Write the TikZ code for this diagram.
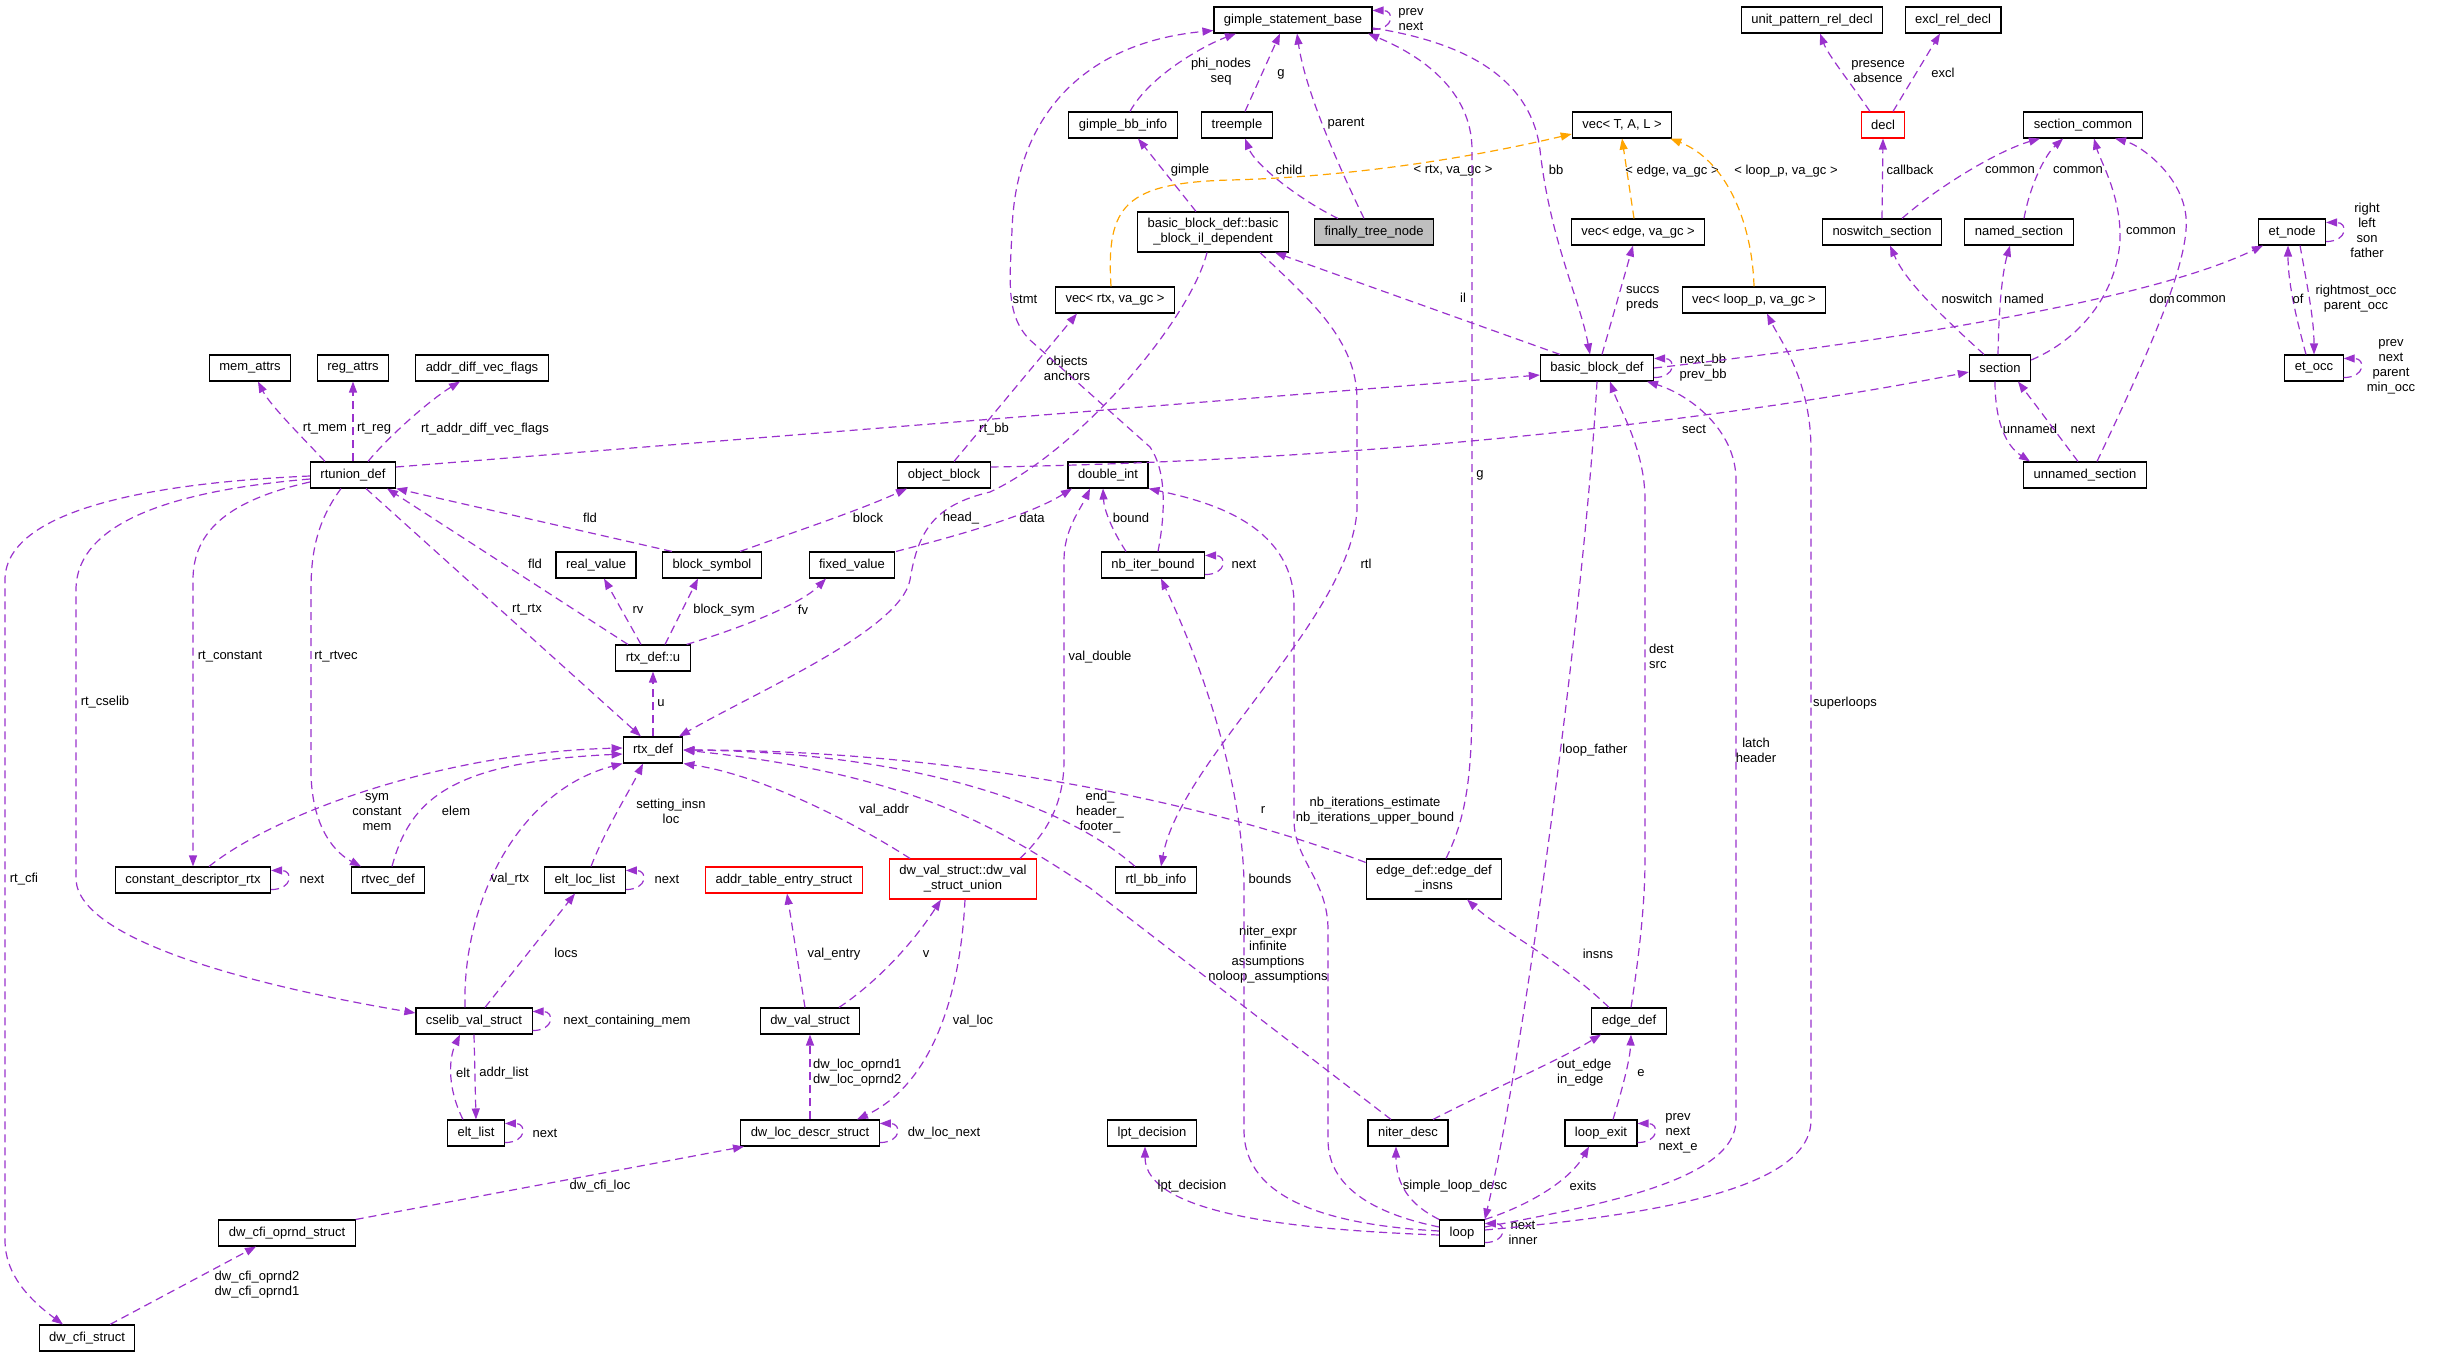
\documentclass[tikz,border=0pt]{standalone}
\usepackage{fontspec}
\setmainfont{Liberation Sans}
\usepackage{xcolor}
\usetikzlibrary{arrows.meta}
\definecolor{dpurple}{HTML}{9A32CD}
\definecolor{dorange}{HTML}{FFA500}
\definecolor{grayfill}{HTML}{BFBFBF}

\begin{document}
\begin{tikzpicture}[
    x=1pt, y=-1pt,
    cls/.style={draw=black, line width=1.1pt, fill=white, font=\fontsize{13}{15}\selectfont,
                inner xsep=10pt, inner ysep=0pt, minimum height=26pt, align=center},
    cls2/.style={cls, minimum height=40pt},
    redcls/.style={cls, draw=red},
    lbl/.style={font=\fontsize{13}{15}\selectfont, align=center, inner sep=0pt},
    lbll/.style={lbl, align=left, anchor=west},
    dep/.style={draw=dpurple, line width=1.2pt, dash pattern=on 8pt off 5pt,
                -{Triangle[length=11pt,width=8pt]}},
    tpl/.style={dep, draw=dorange}
  ]
  \useasboundingbox (0,0) rectangle (2445,1357);

  % Classes: gimple / basic block
  \node[cls] (gsb) at (1293,20) {gimple\_statement\_base};
  \node[cls] (gbbinfo) at (1123,125) {gimple\_bb\_info};
  \node[cls] (treemple) at (1237,125) {treemple};
  \node[cls, fill=grayfill] (ftn) at (1374,232) {finally\_tree\_node};
  \node[cls2] (ildep) at (1213,232) {basic\_block\_def::basic\\\_block\_il\_dependent};
  \node[cls] (vecrtx) at (1115,300) {vec< rtx, va\_gc >};
  \node[cls] (vectal) at (1622,125) {vec< T, A, L >};
  \node[cls] (vecedge) at (1638,232) {vec< edge, va\_gc >};
  \node[cls] (vecloop) at (1754,300) {vec< loop\_p, va\_gc >};
  \node[cls] (bbdef) at (1597,368) {basic\_block\_def};

  % Classes: sections, et
  \node[cls] (uprd) at (1812,20) {unit\_pattern\_rel\_decl};
  \node[cls] (excl) at (1953,20) {excl\_rel\_decl};
  \node[redcls] (decl) at (1883,125) {decl};
  \node[cls] (seccommon) at (2083,125) {section\_common};
  \node[cls] (noswitch) at (1882,232) {noswitch\_section};
  \node[cls] (named) at (2019,232) {named\_section};
  \node[cls] (etnode) at (2292,232) {et\_node};
  \node[cls] (section) at (2000,368) {section};
  \node[cls] (etocc) at (2314,368) {et\_occ};
  \node[cls] (unnamed) at (2085,475) {unnamed\_section};

  % Classes: rtl
  \node[cls] (memattrs) at (250,368) {mem\_attrs};
  \node[cls] (regattrs) at (353,368) {reg\_attrs};
  \node[cls] (advf) at (482,368) {addr\_diff\_vec\_flags};
  \node[cls] (rtunion) at (353,475) {rtunion\_def};
  \node[cls] (realvalue) at (596,565) {real\_value};
  \node[cls] (blocksym) at (712,565) {block\_symbol};
  \node[cls] (rtxu) at (653,658) {rtx\_def::u};
  \node[cls] (rtxdef) at (653,750) {rtx\_def};
  \node[cls] (cdrtx) at (193,880) {constant\_descriptor\_rtx};
  \node[cls] (rtvec) at (388,880) {rtvec\_def};
  \node[cls] (eltloc) at (585,880) {elt\_loc\_list};
  \node[redcls] (addrtab) at (784,880) {addr\_table\_entry\_struct};
  \node[cls] (objblock) at (944,475) {object\_block};
  \node[cls] (doubleint) at (1108,475) {double\_int};
  \node[cls] (fixedvalue) at (852,565) {fixed\_value};
  \node[cls] (nbiter) at (1153,565) {nb\_iter\_bound};
  \node[redcls, minimum height=40pt] (dwunion) at (963,879) {dw\_val\_struct::dw\_val\\\_struct\_union};
  \node[cls] (rtlbb) at (1156,880) {rtl\_bb\_info};
  \node[cls2] (insns) at (1434,879) {edge\_def::edge\_def\\\_insns};

  % Classes: lower row
  \node[cls] (cselib) at (474,1021) {cselib\_val\_struct};
  \node[cls] (eltlist) at (476,1133) {elt\_list};
  \node[cls] (dwval) at (810,1021) {dw\_val\_struct};
  \node[cls] (dwloc) at (810,1133) {dw\_loc\_descr\_struct};
  \node[cls] (cfioprnd) at (287,1233) {dw\_cfi\_oprnd\_struct};
  \node[cls] (cfistruct) at (87,1338) {dw\_cfi\_struct};
  \node[cls] (lpt) at (1152,1133) {lpt\_decision};
  \node[cls] (niter) at (1408,1133) {niter\_desc};
  \node[cls] (loop) at (1462,1233) {loop};
  \node[cls] (edgedef) at (1629,1021) {edge\_def};
  \node[cls] (loopexit) at (1601,1133) {loop\_exit};

  % Self references
  \foreach \n in {gsb,bbdef,etnode,etocc,nbiter,cdrtx,eltloc,cselib,eltlist,dwloc,loop,loopexit}
    \draw[dep] ([yshift=4pt]\n.south east) .. controls +(22,0) and +(22,0) .. ([yshift=-4pt]\n.north east);
  \node[lbl] (lgsb) at (1411,20) {prev\\next};
  \node[lbl] (lnextbb) at (1703,368) {next\_bb\\prev\_bb};
  \node[lbl] (letnode) at (2367,230) {right\\left\\son\\father};
  \node[lbl] (letocc) at (2391,367) {prev\\next\\parent\\min\_occ};
  \node[lbl] (lnext2) at (1244,564) {next};
  \node[lbl] (lnext3) at (312,879) {next};
  \node[lbl] (lnext4) at (667,879) {next};
  \node[lbl] (lnextmem) at (627,1021) {next\_containing\_mem};
  \node[lbl] (lnext5) at (545,1133) {next};
  \node[lbl] (ldwlocnext) at (944,1133) {dw\_loc\_next};
  \node[lbl] (lnextinner) at (1523,1233) {next\\inner};
  \node[lbl] (lloopexit) at (1678,1133) {prev\\next\\next\_e};

  % gimple statements
  \draw[dep] ([xshift=7pt]gbbinfo.north) .. controls (1150,75) and (1205,45) .. ([xshift=-57pt]gsb.south);
  \node[lbl] (lphi) at (1221,72) {phi\_nodes\\seq};
  \draw[dep] ([xshift=8pt]treemple.north) -- ([xshift=-13pt]gsb.south);
  \node[lbl] (lg1) at (1281,74) {g};
  \draw[dep] ([xshift=-10pt]ftn.north) .. controls (1338,165) and (1305,90) .. ([xshift=4pt]gsb.south);
  \node[lbl] (lparent) at (1346,124) {parent};
  \draw[dep] ([xshift=-36pt]ftn.north) .. controls (1300,200) and (1255,165) .. ([xshift=8pt]treemple.south);
  \node[lbl] (lchild) at (1289,170) {child};
  \draw[dep] ([xshift=-17pt]ildep.north) -- ([xshift=15pt]gbbinfo.south);
  \node[lbl] (lgimple) at (1190,170) {gimple};

  % template instances
  \draw[tpl] ([xshift=-4pt]vecrtx.north) .. controls (1106,205) and (1125,183) .. (1230,180)
    .. controls (1350,177) and (1470,158) .. ([yshift=-9pt]vectal.west);
  \node[lbl] (ltrtx) at (1453,171) {< rtx, va\_gc >};
  \draw[tpl] ([xshift=-4pt]vecedge.north) -- (vectal.south);
  \node[lbl] (ltedge) at (1672,171) {< edge, va\_gc >};
  \draw[tpl] (vecloop.north) .. controls (1752,220) and (1725,160) .. ([xshift=-2pt]vectal.south east);
  \node[lbl] (ltloop) at (1786,171) {< loop\_p, va\_gc >};

  % basic blocks
  \draw[dep] ([yshift=-8pt]gsb.east) .. controls (1450,40) and (1530,70) .. (1540,150)
    .. controls (1550,240) and (1580,300) .. ([xshift=-7pt]bbdef.north);
  \node[lbl] (lbb) at (1556,170) {bb};
  \draw[dep] ([xshift=-37pt]bbdef.north) -- ([xshift=62pt]ildep.south);
  \node[lbl] (lil) at (1463,298) {il};
  \draw[dep] ([xshift=5pt]bbdef.north) -- ([xshift=-5pt]vecedge.south);
  \node[lbll] (lsuccs) at (1626,299) {succs\\preds};
  \draw[dep] (bbdef.east) .. controls (1900,340) and (2150,300) .. ([xshift=5pt]etnode.south west);
  \node[lbl] (ldom) at (2162,299) {dom};

  % sections
  \draw[dep] ([xshift=-13pt]decl.north) .. controls (1852,85) and (1828,55) .. ([xshift=8pt]uprd.south);
  \node[lbl] (lpres) at (1878,72) {presence\\absence};
  \draw[dep] ([xshift=10pt]decl.north) -- ([xshift=-13pt]excl.south);
  \node[lbl] (lexcl) at (1943,73) {excl};
  \draw[dep] (noswitch.north) -- (decl.south);
  \node[lbl] (lcallback) at (1910,170) {callback};
  \draw[dep] ([xshift=20pt]noswitch.north) .. controls (1940,185) and (2000,150) .. ([xshift=-43pt]seccommon.south);
  \node[lbl] (lcommon1) at (2010,170) {common};
  \draw[dep] ([xshift=5pt]named.north) .. controls (2030,185) and (2045,155) .. ([xshift=-20pt]seccommon.south);
  \node[lbl] (lcommon2) at (2078,170) {common};
  \draw[dep] ([yshift=8pt]section.east) .. controls (2090,335) and (2122,280) .. (2120,230)
    .. controls (2118,190) and (2100,160) .. ([xshift=11pt]seccommon.south);
  \node[lbl] (lcommon3) at (2151,231) {common};
  \draw[dep] ([xshift=12pt]unnamed.north) .. controls (2150,350) and (2190,260) .. (2186,217)
    .. controls (2182,175) and (2140,145) .. ([xshift=32pt]seccommon.south);
  \node[lbl] (lcommon4) at (2201,299) {common};
  \draw[dep] ([xshift=-16pt]section.north) .. controls (1935,310) and (1905,280) .. ([xshift=8pt]noswitch.south);
  \node[lbl] (lnoswitch) at (1967,299) {noswitch};
  \draw[dep] ([xshift=-2pt]section.north) .. controls (1999,300) and (2003,270) .. ([xshift=-9pt]named.south);
  \node[lbl] (lnamed) at (2024,299) {named};
  \draw[dep] ([xshift=-5pt]section.south) .. controls (1995,420) and (2005,445) .. ([xshift=-55pt]unnamed.north);
  \node[lbl] (lunnamed) at (2030,429) {unnamed};
  \draw[dep] ([xshift=-7pt]unnamed.north) -- ([xshift=18pt]section.south);
  \node[lbl] (lnext1) at (2083,429) {next};
  \draw[dep] ([yshift=8pt]objblock.east) .. controls (1400,460) and (1750,415) .. ([yshift=-4pt]section.west);
  \node[lbl] (lsect) at (1694,429) {sect};

  % et nodes
  \draw[dep] ([xshift=-8pt]etocc.north) .. controls (2294,310) and (2288,280) .. ([xshift=-4pt]etnode.south);
  \node[lbl] (lof) at (2298,299) {of};
  \draw[dep] ([xshift=8pt]etnode.south) .. controls (2308,290) and (2314,320) .. (etocc.north);
  \node[lbl] (lrocc) at (2356,299) {rightmost\_occ\\parent\_occ};

  % rtunion members
  \draw[dep] ([xshift=-28pt]rtunion.north) .. controls (300,435) and (270,405) .. ([xshift=8pt]memattrs.south);
  \node[lbl] (lrtmem) at (325,429) {rt\_mem};
  \draw[dep] (rtunion.north) -- (regattrs.south);
  \node[lbl] (lrtreg) at (374,429) {rt\_reg};
  \draw[dep] ([xshift=15pt]rtunion.north) .. controls (390,435) and (430,400) .. ([xshift=-22pt]advf.south);
  \node[lbl] (lradvf) at (485,429) {rt\_addr\_diff\_vec\_flags};
  \draw[dep] ([yshift=8pt]rtunion.east) -- ([yshift=-7pt]bbdef.west);
  \node[lbl] (lrtbb) at (994,429) {rt\_bb};
  \draw[dep] ([xshift=-40pt]blocksym.north) -- (rtunion.south east);
  \node[lbl] (lfld1) at (590,518) {fld};
  \draw[dep] ([xshift=-25pt]rtxu.north) -- ([xshift=34pt]rtunion.south);
  \node[lbl] (lfld2) at (535,564) {fld};
  \draw[dep] ([xshift=13pt]rtunion.south) -- ([xshift=-12pt]rtxdef.north);
  \node[lbl] (lrtrtx) at (527,610) {rt\_rtx};
  \draw[dep] ([yshift=-7pt]rtunion.west) .. controls (230,500) and (193,530) .. (193,580) -- (cdrtx.north);
  \node[lbl] (lrtconst) at (230,657) {rt\_constant};
  \draw[dep] ([xshift=-12pt]rtunion.south) .. controls (318,520) and (311,550) .. (311,590) -- (311,770)
    .. controls (311,820) and (330,850) .. ([xshift=-27pt]rtvec.north);
  \node[lbl] (lrtrtvec) at (336,657) {rt\_rtvec};
  \draw[dep] ([yshift=-4pt]rtunion.west) .. controls (180,490) and (76,520) .. (76,590) -- (76,880)
    .. controls (80,940) and (250,985) .. ([yshift=8pt]cselib.west);
  \node[lbl] (lrtcselib) at (105,702) {rt\_cselib};
  \draw[dep] ([yshift=-1pt]rtunion.west) .. controls (150,483) and (5,510) .. (5,580) -- (5,1240)
    .. controls (5,1275) and (30,1300) .. ([xshift=-24pt]cfistruct.north);
  \node[lbl] (lrtcfi) at (24,879) {rt\_cfi};

  % rtx_def::u members
  \draw[dep] ([xshift=-12pt]rtxu.north) -- ([xshift=8pt]realvalue.south);
  \node[lbl] (lrv) at (638,610) {rv};
  \draw[dep] ([xshift=12pt]rtxu.north) -- ([xshift=-14pt]blocksym.south);
  \node[lbl] (lbsym) at (724,610) {block\_sym};
  \draw[dep] ([xshift=-4pt]rtxu.north east) .. controls (760,622) and (805,600) .. ([xshift=-26pt]fixedvalue.south);
  \node[lbl] (lfv) at (803,610) {fv};
  \draw[dep] (rtxdef.north) -- (rtxu.south);
  \node[lbl] (lu) at (661,703) {u};
  \draw[dep] ([xshift=28pt]blocksym.north) .. controls (800,530) and (860,510) .. ([xshift=-37pt]objblock.south);
  \node[lbl] (lblock) at (868,518) {block};
  \draw[dep] ([xshift=44pt]fixedvalue.north) .. controls (960,535) and (1030,515) .. ([xshift=-36pt]doubleint.south);
  \node[lbl] (ldata) at (1032,518) {data};
  \draw[dep] ([xshift=10pt]objblock.north) -- ([xshift=-38pt]vecrtx.south);
  \node[lbl] (lobjects) at (1067,368) {objects\\anchors};
  \draw[dep] ([xshift=5pt]nbiter.north) .. controls (1166,510) and (1166,470) .. (1150,447) -- (1030,340)
    .. controls (1005,315) and (1010,280) .. (1012,230) .. controls (1016,110) and (1090,42) .. ([yshift=3pt]gsb.south west);
  \node[lbl] (lstmt) at (1025,299) {stmt};

  % il dependent
  \draw[dep] ([xshift=-6pt]ildep.south) .. controls (1190,320) and (1080,450) .. (990,492)
    .. controls (935,505) and (918,530) .. (910,580) .. controls (900,630) and (760,690) .. ([xshift=26pt]rtxdef.north);
  \node[lbl] (lhead) at (961,518) {head\_};
  \draw[dep] ([xshift=47pt]ildep.south) .. controls (1310,300) and (1357,340) .. (1357,400) -- (1357,510)
    .. controls (1350,620) and (1180,760) .. ([xshift=5pt]rtlbb.north);
  \node[lbl] (lrtl) at (1366,564) {rtl};

  % into rtx_def
  \draw[dep] ([xshift=-21pt]rtlbb.north) .. controls (1060,800) and (900,752) .. (rtxdef.east);
  \node[lbl] (lend) at (1100,812) {end\_\\header\_\\footer\_};
  \draw[dep] ([xshift=-53pt]dwunion.north) .. controls (850,820) and (760,775) .. (rtxdef.south east);
  \node[lbl] (lvaladdr) at (884,810) {val\_addr};
  \draw[dep] ([yshift=-4pt]insns.north west) .. controls (1200,800) and (950,750) .. (rtxdef.east);
  \node[lbl] (lr) at (1263,810) {r};
  \draw[dep] ([xshift=-17pt]niter.north) -- (1090,888) .. controls (1000,830) and (920,775) .. (rtxdef.east);
  \node[lbl] (lniter) at (1268,955) {niter\_expr\\infinite\\assumptions\\noloop\_assumptions};
  \draw[dep] ([xshift=16pt]cdrtx.north) .. controls (280,810) and (450,752) .. ([yshift=2pt]rtxdef.west);
  \node[lbl] (lsym) at (377,812) {sym\\constant\\mem};
  \draw[dep] ([xshift=4pt]rtvec.north) .. controls (410,800) and (450,762) .. ([yshift=-4pt]rtxdef.west);
  \node[lbl] (lelem) at (456,811) {elem};
  \draw[dep] ([xshift=-9pt]cselib.north) .. controls (462,900) and (520,790) .. (rtxdef.south west);
  \node[lbl] (lvalrtx) at (510,879) {val\_rtx};
  \draw[dep] ([xshift=11pt]cselib.north) -- ([xshift=-10pt]eltloc.south);
  \node[lbl] (llocs) at (566,953) {locs};
  \draw[dep] ([xshift=6pt]eltloc.north) .. controls (605,830) and (630,790) .. ([xshift=-10pt]rtxdef.south);
  \node[lbl] (lsetting) at (671,811) {setting\_insn\\loc};

  % double_int and nb_iter_bound
  \draw[dep] ([xshift=57pt]dwunion.north) .. controls (1050,830) and (1064,800) .. (1064,760) -- (1064,560)
    .. controls (1064,530) and (1080,510) .. ([xshift=-18pt]doubleint.south);
  \node[lbl] (lvaldouble) at (1100,657) {val\_double};
  \draw[dep] ([xshift=-27pt]nbiter.north) .. controls (1112,530) and (1104,510) .. ([xshift=-5pt]doubleint.south);
  \node[lbl] (lbound) at (1131,518) {bound};
  \draw[dep] ([yshift=6pt]loop.west) .. controls (1380,1215) and (1328,1190) .. (1328,1140) -- (1328,930)
    .. controls (1328,880) and (1294,860) .. (1294,820) -- (1294,600) .. controls (1290,520) and (1200,500) .. (doubleint.south east);
  \node[lbl] (lnbit) at (1375,811) {nb\_iterations\_estimate\\nb\_iterations\_upper\_bound};
  \draw[dep] ([yshift=2pt]loop.west) .. controls (1330,1225) and (1244,1200) .. (1244,1130) -- (1244,880)
    .. controls (1240,760) and (1190,640) .. ([xshift=8pt]nbiter.south);
  \node[lbl] (lbounds) at (1270,879) {bounds};

  % loop members
  \draw[dep] ([yshift=-2pt]loop.west) .. controls (1300,1230) and (1145,1215) .. ([xshift=-7pt]lpt.south);
  \node[lbl] (llpt) at (1192,1186) {lpt\_decision};
  \draw[dep] (loop.north west) .. controls (1410,1205) and (1396,1185) .. ([xshift=-12pt]niter.south);
  \node[lbl] (lsld) at (1455,1186) {simple\_loop\_desc};
  \draw[dep] (loop.north east) .. controls (1530,1205) and (1570,1180) .. ([xshift=-12pt]loopexit.south);
  \node[lbl] (lexits) at (1583,1186) {exits};
  \draw[dep] ([xshift=12pt]loopexit.north) .. controls (1622,1090) and (1630,1060) .. ([xshift=2pt]edgedef.south);
  \node[lbl] (le) at (1641,1073) {e};
  \draw[dep] ([xshift=25pt]niter.north) .. controls (1490,1090) and (1560,1060) .. ([xshift=-28pt]edgedef.south);
  \node[lbll] (loutedge) at (1557,1073) {out\_edge\\in\_edge};
  \draw[dep] ([xshift=-20pt]edgedef.north) .. controls (1560,960) and (1500,930) .. ([xshift=33pt]insns.south);
  \node[lbl] (linsns) at (1598,954) {insns};
  \draw[dep] ([xshift=12pt]insns.north) .. controls (1465,820) and (1472,780) .. (1472,700) -- (1472,150)
    .. controls (1472,90) and (1420,55) .. ([xshift=75pt]gsb.south);
  \node[lbl] (lg2) at (1480,475) {g};
  \draw[dep] ([xshift=2pt]edgedef.north) .. controls (1640,950) and (1645,900) .. (1645,860) -- (1645,500)
    .. controls (1645,450) and (1620,410) .. ([xshift=13pt]bbdef.south);
  \node[lbll] (ldest) at (1649,656) {dest\\src};
  \draw[dep] ([yshift=6pt]loop.east) .. controls (1600,1205) and (1736,1180) .. (1736,1120) -- (1736,480)
    .. controls (1736,430) and (1690,395) .. ([xshift=50pt]bbdef.south);
  \node[lbl] (llatch) at (1756,750) {latch\\header};
  \draw[dep] ([yshift=3pt]loop.east) .. controls (1650,1215) and (1811,1190) .. (1811,1120) -- (1811,450)
    .. controls (1811,380) and (1780,340) .. ([xshift=13pt]vecloop.south);
  \node[lbl] (lsuper) at (1845,703) {superloops};
  \draw[dep] (bbdef.south) .. controls (1585,600) and (1525,1050) .. (loop.north east);
  \node[lbl] (lloopfather) at (1595,750) {loop\_father};

  % dwarf structs
  \draw[dep] ([xshift=-5pt]dwval.north) -- ([xshift=3pt]addrtab.south);
  \node[lbl] (lvalentry) at (834,954) {val\_entry};
  \draw[dep] ([xshift=29pt]dwval.north) .. controls (880,980) and (915,940) .. ([xshift=-22pt]dwunion.south);
  \node[lbl] (lv) at (926,954) {v};
  \draw[dep] ([xshift=2pt]dwunion.south) .. controls (960,1000) and (930,1085) .. ([xshift=47pt]dwloc.north);
  \node[lbl] (lvalloc) at (973,1021) {val\_loc};
  \draw[dep] (dwloc.north) -- (dwval.south);
  \node[lbll] (loprnd) at (813,1073) {dw\_loc\_oprnd1\\dw\_loc\_oprnd2};
  \draw[dep] (cfioprnd.north east) -- ([xshift=-66pt]dwloc.south);
  \node[lbl] (lcfiloc) at (600,1186) {dw\_cfi\_loc};
  \draw[dep] ([xshift=23pt]cfistruct.north) -- ([xshift=-31pt]cfioprnd.south);
  \node[lbl] (lcfioprnd) at (257,1285) {dw\_cfi\_oprnd2\\dw\_cfi\_oprnd1};

  % cselib
  \draw[dep] ([xshift=-13pt]eltlist.north) .. controls (448,1090) and (448,1060) .. ([xshift=-14pt]cselib.south);
  \node[lbl] (lelt) at (463,1073) {elt};
  \draw[dep] (cselib.south) -- (eltlist.north);
  \node[lbl] (laddrlist) at (504,1073) {addr\_list};
\end{tikzpicture}
\end{document}
